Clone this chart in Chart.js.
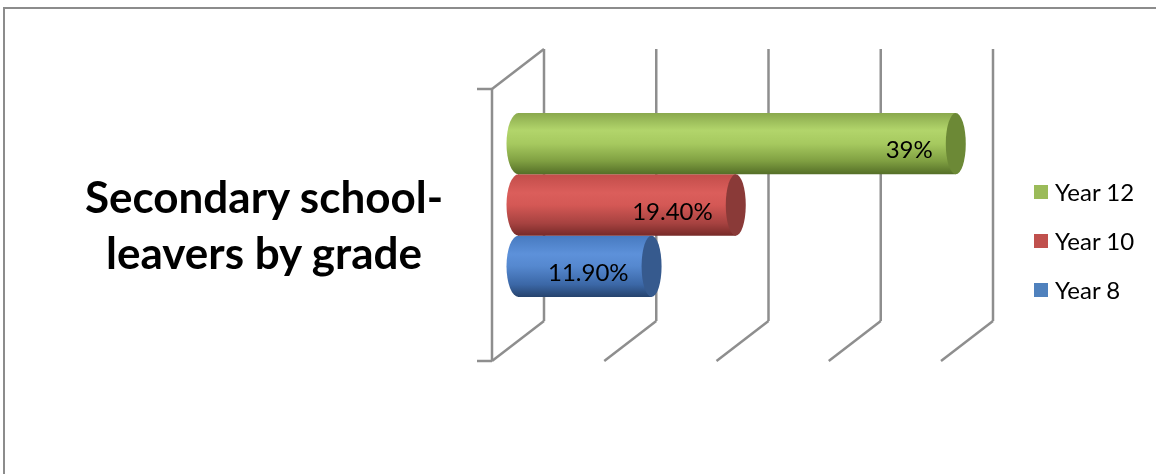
<!DOCTYPE html>
<html><head><meta charset="utf-8">
<script src="https://cdn.jsdelivr.net/npm/chart.js@4.4.1/dist/chart.umd.min.js"></script>
<style>
html,body{margin:0;padding:0;background:#fff;}
#wrap{position:relative;width:1156px;height:474px;overflow:hidden;font-family:Lato,'Open Sans',sans-serif;background:#fff;}
#frame{position:absolute;left:3px;top:7px;width:1170px;height:480px;border-left:2px solid #8c8c8c;border-top:2px solid #8c8c8c;}
canvas{position:absolute;left:0;top:0;}
#title{position:absolute;left:34px;width:460px;top:168px;text-align:center;font-weight:bold;font-size:44px;line-height:56px;color:#000;}
#legend{position:absolute;left:1034px;top:167px;}
.item{display:flex;align-items:center;height:49px;font-size:24px;color:#000;}
.sw{width:14px;height:14px;margin-right:7px;}
</style></head>
<body>
<div id="wrap">
  <div id="frame"></div>
  <canvas id="c" width="1156" height="474"></canvas>
  <div id="title">Secondary school-<br>leavers by grade</div>
  <div id="legend"></div>
</div>
<script>
// ---- data ----
const categories = [''];
const seriesNames = ['Year 12', 'Year 10', 'Year 8'];
const seriesValues = [39, 19.4, 11.9];
const valueLabels = ['39%', '19.40%', '11.90%'];
const xTicks = [0, 10, 20, 30, 40];

// ---- styles ----
const baseColors = ['#9bbb59', '#c0504d', '#4f81bd'];
const capColors = ['#6c8936', '#8a3a38', '#365a8e'];
const gradStops = [
  [[0,'#8aa94d'],[0.28,'#b2d56b'],[0.5,'#a6c95f'],[0.78,'#80a042'],[1,'#546e27']],
  [[0,'#c24d4a'],[0.3,'#db5e5b'],[0.5,'#d45855'],[0.8,'#a64240'],[1,'#772a28']],
  [[0,'#477ac0'],[0.3,'#5d91da'],[0.5,'#5588cf'],[0.8,'#3b67a6'],[1,'#26436d']]
];
const gridColor = '#8e8e8e';
const DX = 26, DY = 20;

// legend
const lg = document.getElementById('legend');
seriesNames.forEach((n, i) => {
  const d = document.createElement('div'); d.className = 'item';
  const s = document.createElement('span'); s.className = 'sw'; s.style.background = baseColors[i];
  const t = document.createElement('span'); t.textContent = n;
  d.appendChild(s); d.appendChild(t); lg.appendChild(d);
});

function makeGrad(ctx, top, bottom, stops) {
  const g = ctx.createLinearGradient(0, top, 0, bottom);
  stops.forEach(s => g.addColorStop(s[0], s[1]));
  return g;
}

const cyl3d = {
  id: 'cyl3d',
  beforeDatasetsDraw(chart) {
    const ctx = chart.ctx, a = chart.chartArea, x = chart.scales.x;
    const top = a.top, bot = a.bottom;
    ctx.save();
    ctx.strokeStyle = gridColor; ctx.lineWidth = 2.5; ctx.lineCap = 'butt';
    const ln = (x1, y1, x2, y2) => { ctx.beginPath(); ctx.moveTo(x1, y1); ctx.lineTo(x2, y2); ctx.stroke(); };
    xTicks.forEach(v => {
      const px = x.getPixelForValue(v);
      ln(px + DX, top - DY, px + DX, bot - DY);
      ln(px + DX, bot - DY, px - DX, bot + DY);
    });
    const p0 = x.getPixelForValue(xTicks[0]);
    ln(p0 + DX, top - DY, p0 - DX, top + DY);
    ln(p0 - DX, top + DY, p0 - DX, bot + DY);
    ln(p0 - DX - 15, top + DY, p0 - DX, top + DY);
    ln(p0 - DX - 15, bot + DY, p0 - DX, bot + DY);
    ctx.restore();
    chart.data.datasets.forEach((ds, i) => {
      chart.getDatasetMeta(i).data.forEach(el => {
        try { el.options.backgroundColor = makeGrad(ctx, el.y - el.height / 2, el.y + el.height / 2, gradStops[i]); } catch (e) {}
      });
    });
  },
  afterDatasetsDraw(chart) {
    const ctx = chart.ctx;
    chart.data.datasets.forEach((ds, i) => {
      chart.getDatasetMeta(i).data.forEach((el, j) => {
        const h = el.height, t = el.y - h / 2, b = el.y + h / 2;
        ctx.save();
        // left rounded end
        ctx.fillStyle = makeGrad(ctx, t, b, gradStops[i]);
        ctx.beginPath();
        ctx.ellipse(el.base + 0.5, el.y, 12, h / 2, 0, Math.PI / 2, Math.PI * 1.5);
        ctx.closePath(); ctx.fill();
        // right cap
        ctx.fillStyle = capColors[i];
        ctx.beginPath();
        ctx.ellipse(el.x, el.y, 10, h / 2, 0, 0, Math.PI * 2);
        ctx.fill();
        // label
        ctx.fillStyle = '#000';
        ctx.font = '24px Lato, "Open Sans", sans-serif';
        ctx.textAlign = 'right'; ctx.textBaseline = 'middle';
        ctx.fillText(valueLabels[i], el.x - 23, el.y + 7);
        ctx.restore();
      });
    });
  }
};

new Chart(document.getElementById('c'), {
  type: 'bar',
  data: {
    labels: categories,
    datasets: seriesNames.map((n, i) => ({
      label: n,
      data: [seriesValues[i]],
      backgroundColor: (c) => baseColors[c.datasetIndex],
      borderWidth: 0,
      categoryPercentage: 0.676,
      barPercentage: 1
    }))
  },
  options: {
    indexAxis: 'y',
    responsive: false,
    animation: false,
    layout: { padding: { left: 518, right: 189, top: 69, bottom: 133 } },
    plugins: { legend: { display: false }, tooltip: { enabled: false }, title: { display: false } },
    scales: {
      x: { display: false, min: xTicks[0], max: xTicks[xTicks.length - 1], ticks: { stepSize: 10 } },
      y: { display: false }
    }
  },
  plugins: [cyl3d]
});
</script>
</body></html>
